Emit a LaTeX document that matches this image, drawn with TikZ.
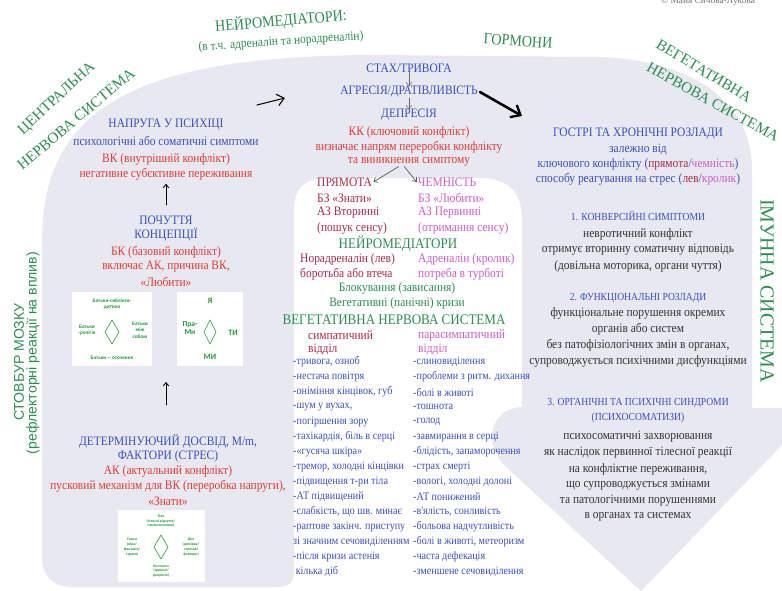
\documentclass[tikz,border=0pt]{standalone}
\usepackage{fontspec}
\setmainfont{Liberation Serif}
\newfontfamily\narrowfont[FakeStretch=0.89]{Liberation Serif}
\newfontfamily\sansfont{Liberation Sans}
\newfontfamily\smallsans{Carlito}
\usetikzlibrary{arrows.meta}
\definecolor{bggrey}{RGB}{232,232,240}
\definecolor{labgreen}{RGB}{46,140,82}
\definecolor{txtblue}{RGB}{58,78,196}
\definecolor{txtred}{RGB}{228,58,58}
\definecolor{darkred}{RGB}{172,40,72}
\definecolor{txtpink}{RGB}{206,92,200}
\definecolor{txtdark}{RGB}{50,50,55}
\definecolor{boxgreen}{RGB}{40,150,60}
\begin{document}
\begin{tikzpicture}[x=0.03cm,y=-0.03cm,line join=round,line cap=round,
  >={Straight Barb[length=3pt,width=5pt]},
  t/.style={inner sep=0pt,font=\narrowfont\fontsize{11}{12}\selectfont},
  blu/.style={t,text=txtblue},
  rd/.style={t,text=txtred},
  crim/.style={t,text=darkred,anchor=west},
  pnk/.style={t,text=txtpink,anchor=west},
  grn/.style={t,text=labgreen},
  drk/.style={t,text=txtdark},
  head/.style={t,text=txtblue,font=\narrowfont\fontsize{9.2}{10}\selectfont},
  lst/.style={inner sep=0pt,anchor=west,text=txtblue,font=\narrowfont\fontsize{9.7}{11}\selectfont},
  outer/.style={inner sep=0pt,text=labgreen,font=\fontsize{13}{14}\selectfont},
  brain/.style={inner sep=0pt,text=labgreen,font=\sansfont\fontsize{12}{13}\selectfont,rotate=90},
  tiny/.style={inner sep=0pt,align=center,text=boxgreen,font=\smallsans\bfseries\fontsize{4.5}{5.5}\selectfont},
  rhomb/.style={draw=boxgreen,line width=0.5pt},
  up/.style={->,draw=black,line width=0.7pt},
  small/.style={->,draw=black!60,line width=0.4pt},
  ]
\useasboundingbox (0,0) rectangle (782,591);

% grey field with the column cut out and the arrow at the right
\fill[bggrey] (42,555) -- (42,240) .. controls (42,100) and (150,55) .. (380,55)
  -- (600,57) .. controls (690,60) and (752,100) .. (752,170) -- (752,408)
  -- (785,408) -- (785,442) -- (641,591) -- (505,466)
  .. controls (484,446) and (488,409) .. (522,407) -- (522,220)
  .. controls (522,192) and (508,178) .. (480,178) -- (325,178)
  .. controls (305,178) and (294,189) .. (294,208) -- (294,572)
  .. controls (294,583) and (288,587) .. (278,587) -- (72,587)
  .. controls (52,587) and (42,576) .. (42,556) -- cycle;

\node[font=\fontsize{8}{9}\selectfont,text=black!55,inner sep=0pt] (copy) at (708,1.5) {© Майя Сичова-Лукова};

% labels round the field
\node[outer,font=\narrowfont\fontsize{13.5}{15}\selectfont,rotate=5] (neuro) at (281,21) {НЕЙРОМЕДІАТОРИ:};
\node[outer,font=\narrowfont\fontsize{11}{12}\selectfont,rotate=4] (neuro2) at (281,42) {(в т.ч. адреналін та норадреналін)};
\node[outer,font=\narrowfont\fontsize{13.5}{15}\selectfont,rotate=-4] (horm) at (518,41) {ГОРМОНИ};
\node[outer,rotate=43] (cns1) at (57,99) {ЦЕНТРАЛЬНА};
\node[outer,rotate=40] (cns2) at (76,119) {НЕРВОВА СИСТЕМА};
\node[outer,rotate=-31] (ans1) at (704,71) {ВЕГЕТАТИВНА};
\node[outer,rotate=-29] (ans2) at (713,102) {НЕРВОВА СИСТЕМА};
\node[outer,font=\fontsize{17}{18}\selectfont,rotate=-90] (imm) at (767,291) {ІМУННА СИСТЕМА};
\node[brain] (stem1) at (19,362) {СТОВБУР МОЗКУ};
\node[brain] (stem2) at (33,353) {(рефлекторні реакції на вплив)};

% big arrows
\coordinate (r1) at (257,105);
\coordinate (r2) at (285,98);
\draw[line width=0.9pt,-{Straight Barb[length=6pt,width=10pt]}] (r1) -- (r2);
\coordinate (d1) at (480,92);
\coordinate (d2) at (522,116);
\draw[line width=2.2pt,-{Straight Barb[length=7pt,width=12pt,line width=2pt]}] (d1) -- (d2);

% left block
\node[blu] (napr) at (166,125) {НАПРУГА У ПСИХІЦІ};
\node[blu] (symp) at (166,141) {психологічні або соматичні симптоми};
\node[rd] (vk) at (166,159) {ВК (внутрішній конфлікт)};
\node[rd] (vk2) at (166,174) {негативне субєктивне переживання};
\node[blu] (poch) at (166,220) {ПОЧУТТЯ};
\node[blu] (konc) at (166,235) {КОНЦЕПЦІЇ};
\node[rd] (bk) at (166,252) {БК (базовий конфлікт)};
\node[rd] (bk2) at (166,267) {включає АК, причина ВК,};
\node[rd] (bk3) at (166,282) {«Любити»};
\draw[up] ([yshift=9pt]poch.north) -- ([yshift=-3pt]vk2.south);

% small pictures
\fill[white] (72,292) rectangle (152,366);
\node[tiny] (fam1) at (112,304) {Батьки-сиблінги-\\дитина};
\node[tiny] (fam2) at (87,330) {Батьки\\-релігія};
\node[tiny] (fam3) at (140,330) {Батьки\\між\\собою};
\node[tiny] (fam4) at (112,358) {Батьки -- оточення};
\draw[rhomb] (112,320) -- (119,332) -- (112,344) -- (105,332) -- cycle;
\fill[white] (177,292) rectangle (243,366);
\node[tiny,font=\smallsans\bfseries\fontsize{7}{8}\selectfont] (me) at (210,301) {Я};
\node[tiny,font=\smallsans\bfseries\fontsize{6.5}{7.5}\selectfont] (prami) at (190,328) {Пра-\\Ми};
\node[tiny,font=\smallsans\bfseries\fontsize{7}{8}\selectfont] (you) at (233,333) {ТИ};
\node[tiny,font=\smallsans\bfseries\fontsize{7}{8}\selectfont] (we) at (210,357) {МИ};
\draw[rhomb] (210,320) -- (216,332) -- (210,344) -- (204,332) -- cycle;

\coordinate (a1) at (166,405);
\coordinate (a2) at (166,382);
\draw[up] (a1) -- (a2);
\node[blu] (det) at (168,441) {ДЕТЕРМІНУЮЧИЙ ДОСВІД, M/m,};
\node[blu] (fakt) at (168,456) {ФАКТОРИ (СТРЕС)};
\node[rd] (ak) at (168,471) {АК (актуальний конфлікт)};
\node[rd] (ak2) at (168,486) {пусковий механізм для ВК (переробка напруги),};
\node[rd] (ak3) at (168,501) {«Знати»};

\fill[white] (118,510) rectangle (205,582);
\node[tiny,font=\smallsans\bfseries\fontsize{3.3}{4.2}\selectfont] (body) at (161,521) {Тіло\\(тілесні відчуття/\\психосоматика)};
\node[tiny,font=\smallsans\bfseries\fontsize{3.3}{4.2}\selectfont] (sense) at (132,547) {Сенси\\(віра/\\фантазія/\\страхи)};
\node[tiny,font=\smallsans\bfseries\fontsize{3.3}{4.2}\selectfont] (home) at (191,547) {Дім\\(домівка/\\стресові\\фактори)};
\node[tiny,font=\smallsans\bfseries\fontsize{3.3}{4.2}\selectfont] (cont) at (161,571) {Контакти\\(тривалі/\\депресія)};
\draw[rhomb] (161,535) -- (168,547) -- (161,559) -- (154,547) -- cycle;

% middle column
\node[blu] (fear) at (409,68) {СТАХ/ТРИВОГА};
\node[blu] (aggr) at (409,92) {АГРЕСІЯ/ДРАТІВЛИВІСТЬ};
\node[blu] (depr) at (409,115) {ДЕПРЕСІЯ};
\draw[small] (fear) -- (aggr);
\draw[small] (aggr) -- (depr);
\node[rd] (kk) at (409,132) {КК (ключовий конфлікт)};
\node[rd] (kk2) at (409,147) {визначає напрям переробки конфлікту};
\node[rd] (kk3) at (409,162) {та виникнення симптому};
\node[crim] (pr) at (317,182) {ПРЯМОТА};
\node[pnk] (ch) at (418,182) {ЧЕМНІСТЬ};
\draw[->,draw=black!65,line width=0.6pt] ([xshift=-9pt]kk3.south) -- ([xshift=1pt]pr.east);
\draw[->,draw=black!65,line width=0.6pt] ([xshift=-4pt]kk3.south) -- ([xshift=-1pt]ch.west);
\node[crim] (bz1) at (317,198) {БЗ «Знати»};
\node[crim] (az1) at (317,213) {АЗ Вторинні};
\node[crim] (ps1) at (317,228) {(пошук сенсу)};
\node[pnk] (bz2) at (418,198) {БЗ «Любити»};
\node[pnk] (az2) at (418,213) {АЗ Первинні};
\node[pnk] (ps2) at (418,228) {(отримання сенсу)};
\node[grn,font=\narrowfont\fontsize{12.5}{14}\selectfont] (nm) at (398,244) {НЕЙРОМЕДІАТОРИ};
\node[crim] (nor) at (300,259) {Норадреналін (лев)};
\node[pnk] (adr) at (418,259) {Адреналін (кролик)};
\node[crim] (fight) at (300,274) {боротьба або втеча};
\node[pnk] (care) at (418,274) {потреба в турботі};
\node[grn] (block) at (397,288) {Блокування (зависання)};
\node[grn] (crisis) at (397,303) {Вегетативні (панічні) кризи};
\node[grn,font=\narrowfont\fontsize{12.5}{14}\selectfont] (vns) at (394,320) {ВЕГЕТАТИВНА НЕРВОВА СИСТЕМА};
\node[crim] (sym) at (308,335) {симпатичний};
\node[crim] (sym2) at (308,349) {відділ};
\node[pnk] (par) at (418,335) {парасимпатичний};
\node[pnk] (par2) at (418,349) {відділ};

\node[lst] (s1) at (293,362) {-тривога, озноб};
\node[lst] (s2) at (293,377) {-нестача повітря};
\node[lst] (s3) at (293,392) {-оніміння кінцівок, губ};
\node[lst] (s4) at (293,407) {-шум у вухах,};
\node[lst] (s5) at (293,422) {-погіршення зору};
\node[lst] (s6) at (293,437) {-тахікардія, біль в серці};
\node[lst] (s7) at (293,452) {-«гусяча шкіра»};
\node[lst] (s8) at (293,467) {-тремор, холодні кінцівки};
\node[lst] (s9) at (293,482) {-підвищення т-ри тіла};
\node[lst] (s10) at (293,497) {-АТ підвищений};
\node[lst] (s11) at (293,512) {-слабкість, що шв. минає};
\node[lst] (s12) at (293,527) {-раптове закінч. приступу};
\node[lst] (s13) at (293,542) {зі значним сечовиділенням};
\node[lst] (s14) at (293,557) {-після кризи астенія};
\node[lst] (s15) at (293,572) {\ кілька діб};

\node[lst] (p1) at (413,362) {-слиновиділення};
\node[lst] (p2) at (413,377) {-проблеми з ритм. дихання};
\node[lst] (p3) at (413,392) {-болі в животі};
\node[lst] (p4) at (413,407) {-тошнота};
\node[lst] (p5) at (413,422) {-голод};
\node[lst] (p6) at (413,437) {-завмирання в серці};
\node[lst] (p7) at (413,452) {-блідість, запаморочення};
\node[lst] (p8) at (413,467) {-страх смерті};
\node[lst] (p9) at (413,482) {-вологі, холодні долоні};
\node[lst] (p10) at (413,497) {-АТ понижений};
\node[lst] (p11) at (413,512) {-в'ялість, сонливість};
\node[lst] (p12) at (413,527) {-больова надчутливість};
\node[lst] (p13) at (413,542) {-болі в животі, метеоризм};
\node[lst] (p14) at (413,557) {-часта дефекація};
\node[lst] (p15) at (413,572) {-зменшене сечовиділення};

% right block
\node[blu] (acute) at (638,134) {ГОСТРІ ТА ХРОНІЧНІ РОЗЛАДИ};
\node[blu] (dep) at (638,149) {залежно від};
\node[blu] (key) at (638,164) {ключового конфлікту (\textcolor{darkred}{прямота}/\textcolor{txtpink}{чемність})};
\node[blu] (way) at (638,179) {способу реагування на стрес (\textcolor{darkred}{лев}/\textcolor{txtpink}{кролик})};
\node[head] (h1) at (638,216) {1. КОНВЕРСІЙНІ СИМПТОМИ};
\node[drk] (c1) at (638,234) {невротичний конфлікт};
\node[drk] (c2) at (638,250) {отримує вторинну соматичну відповідь};
\node[drk] (c3) at (638,266) {(довільна моторика, органи чуття)};
\node[head] (h2) at (638,298) {2. ФУНКЦІОНАЛЬНІ РОЗЛАДИ};
\node[drk] (f1) at (638,313) {функціональне порушення окремих};
\node[drk] (f2) at (638,329) {органів або систем};
\node[drk] (f3) at (638,345) {без патофізіологічних змін в органах,};
\node[drk] (f4) at (638,361) {супроводжується психічними дисфункціями};
\node[head] (h3) at (638,403) {3. ОРГАНІЧНІ ТА ПСИХІЧНІ СИНДРОМИ};
\node[head] (h3b) at (638,418) {(ПСИХОСОМАТИЗИ)};
\node[drk] (o1) at (638,437) {психосоматичні захворювання};
\node[drk] (o2) at (638,453) {як наслідок первинної тілесної реакції};
\node[drk] (o3) at (638,469) {на конфліктне переживання,};
\node[drk] (o4) at (638,485) {що супроводжується змінами};
\node[drk] (o5) at (638,501) {та патологічними порушеннями};
\node[drk] (o6) at (638,517) {в органах та системах};
\end{tikzpicture}
\end{document}
